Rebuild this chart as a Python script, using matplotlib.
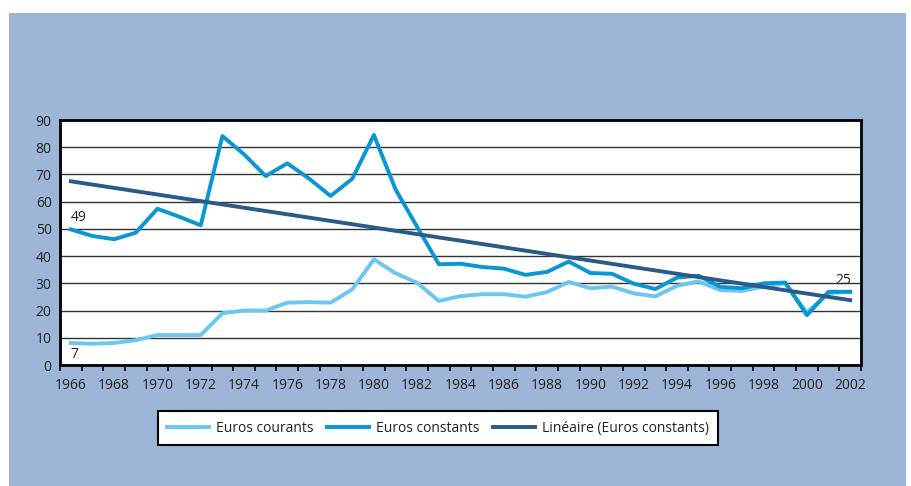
import numpy as np
import matplotlib.pyplot as plt
from matplotlib.patches import Rectangle

annees = list(range(1966, 2003))
euros_courants = [8.1, 7.8, 8.1, 9.1, 11, 11, 11, 19, 20, 20, 22.9, 23.1, 22.9, 27.8,
                  38.8, 33.7, 30.2, 23.5, 25.3, 26, 26, 25.1, 26.8, 30.5, 28.2, 28.8,
                  26.3, 25.2, 29.1, 30.7, 27.5, 27.2, 28.8, 30, 19.3, 26.4, 26.9]
euros_constants = [49.8, 47.4, 46.2, 48.6, 57.4, 54.5, 51.3, 84.1, 77.4, 69.4, 74.1,
                   68.5, 62.1, 68.4, 84.5, 64.5, 50.7, 37, 37.2, 36, 35.4, 33.1, 34.2,
                   38, 33.8, 33.5, 29.9, 27.9, 32.1, 32.8, 28.7, 28.2, 30, 30.3, 18.3,
                   26.9, 26.9]
etiquettes_x = [str(a) for a in range(1966, 2003, 2)]
etiquettes_y = list(range(0, 100, 10))

x = np.array(annees)
# droite de tendance (regression lineaire, comme dans Excel)
pente, origine = np.polyfit(x, euros_constants, 1)
tendance = pente * x + origine

c_courants = "#6cc7f0"
c_constants = "#0996d3"
c_tendance = "#2a5a8a"
police = "Open Sans"

fig = plt.figure(figsize=(9.11, 4.86), dpi=100)
fig.patches.append(Rectangle((9 / 911, 0), 897 / 911, 473 / 486, transform=fig.transFigure,
                             facecolor="#9db6d7", edgecolor="none", zorder=-10))

ax = fig.add_axes([60 / 911, 121 / 486, 801 / 911, 245 / 486])
ax.plot(x, euros_courants, color=c_courants, lw=2.8, label="Euros courants", zorder=3)
ax.plot(x, euros_constants, color=c_constants, lw=2.8, label="Euros constants", zorder=4)
ax.plot(x, tendance, color=c_tendance, lw=2.8, label="Linéaire (Euros constants)", zorder=5)

ax.set_xlim(1965.5, 2002.5)
ax.set_ylim(0, 90)
ax.set_yticks(etiquettes_y)
ax.set_yticklabels([str(v) for v in etiquettes_y], fontsize=10, family=police, color="#222")
ax.set_xticks(range(1966, 2003, 2))
ax.set_xticklabels(etiquettes_x, fontsize=10, family=police, color="#222")
ax.set_xticks(np.arange(1965.5, 2003, 1), minor=True)
ax.tick_params(axis="x", which="major", length=0, pad=9)
ax.tick_params(axis="x", which="minor", length=4, width=1.2, direction="out")
ax.tick_params(axis="y", length=0, pad=6)
ax.grid(axis="y", color="#333333", lw=1)
ax.set_axisbelow(True)
for s in ax.spines.values():
    s.set_linewidth(2)
    s.set_color("black")

ax.annotate("49", (x[0], euros_constants[0]), xytext=(0, 3), textcoords="offset points",
            ha="left", va="bottom", fontsize=10, family=police, color="#222")
ax.annotate("7", (x[0], euros_courants[0]), xytext=(0, -3), textcoords="offset points",
            ha="left", va="top", fontsize=10, family=police, color="#222")
ax.annotate("25", (x[-1], euros_courants[-1]), xytext=(-5, 3), textcoords="offset points",
            ha="center", va="bottom", fontsize=10, family=police, color="#222")

leg = fig.legend(loc="center", bbox_to_anchor=(438 / 911, 1 - 428 / 486), ncol=3,
                 frameon=True, fancybox=False, framealpha=1,
                 prop={"family": police, "size": 10},
                 handlelength=3.0, columnspacing=1.0, handletextpad=0.5,
                 borderpad=0.7, borderaxespad=0)
leg.get_frame().set_edgecolor("black")
leg.get_frame().set_linewidth(1.5)
leg.get_frame().set_facecolor("white")
for t in leg.get_texts():
    t.set_color("#222")

fig.savefig("out.png", dpi=100)
